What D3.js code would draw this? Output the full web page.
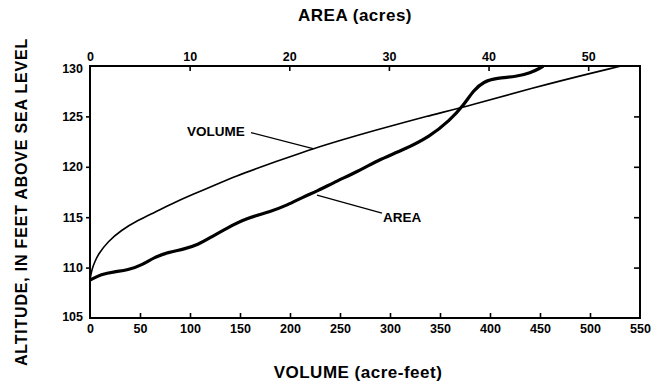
<!DOCTYPE html>
<html>
<head>
<meta charset="utf-8">
<script src="https://cdn.jsdelivr.net/npm/d3@7"></script>
<style>
  body { margin: 0; background: #fff; }
  svg { display: block; font-family: "Liberation Sans", Arial, sans-serif; font-weight: bold; }
</style>
</head>
<body>
<div id="chart"></div>
<script>
// altitude vs volume (acre-feet)
const volumeValues = [0, 2, 5, 8, 18, 31, 48, 65, 81, 101, 130, 147, 163, 197, 223, 253, 280, 340, 377, 460, 531]
const volumeAltitude = [108.8, 109.9, 110.6, 111.3, 112.6, 113.7, 114.7, 115.5, 116.3, 117.2, 118.4, 119.1, 119.7, 120.9, 121.8, 122.7, 123.5, 125.1, 126.0, 128.3, 130]

// altitude vs area (acres)
const areaValues = [0, 1.1, 2.5, 3.8, 5.2, 6.5, 7.8, 9.5, 10.8, 12.2, 13.7, 15.7, 18.1, 19.8, 21.4, 22.8, 24.8, 26.8, 28.8, 31.5, 34.1, 36.1, 37.5, 38.5, 39.5, 40.8, 42.8, 44.2, 45.2, 45.5]
const areaAltitude = [108.75, 109.35, 109.6, 109.75, 110.25, 111.05, 111.5, 111.85, 112.25, 113.05, 113.9, 114.9, 115.55, 116.2, 117.0, 117.6, 118.6, 119.5, 120.6, 121.7, 123.0, 124.6, 126.1, 127.6, 128.45, 128.8, 128.95, 129.3, 129.8, 130]

const volumeTicks = [0, 50, 100, 150, 200, 250, 300, 350, 400, 450, 500, 550]
const areaTicks = [0, 10, 20, 30, 40, 50]
const altitudeTicks = [105, 110, 115, 120, 125, 130]

const W = 657, H = 385
const svg = d3.select('#chart').append('svg')
    .attr('width', W)
    .attr('height', H)

const x = d3.scaleLinear().domain([0, 550]).range([90, 640])
const xa = d3.scaleLinear().domain([0, 55.2]).range([90, 640])
const y = d3.scaleLinear().domain([105, 130]).range([318, 66])

// bottom axis, ticks inward
const gb = svg.append('g')
    .attr('transform', 'translate(0,' + y(105) + ')')
    .call(d3.axisBottom(x).tickValues(volumeTicks).tickSize(-5).tickPadding(6))
// top axis, ticks inward
const gt = svg.append('g')
    .attr('transform', 'translate(0,' + y(130) + ')')
    .call(d3.axisTop(xa).tickValues(areaTicks).tickSize(-5).tickPadding(5))
// left axis, ticks outward
const gl = svg.append('g')
    .attr('transform', 'translate(' + x(0) + ',0)')
    .call(d3.axisLeft(y).tickValues(altitudeTicks).tickSize(4).tickPadding(3))
// right axis, ticks inward, no labels
const gr = svg.append('g')
    .attr('transform', 'translate(' + x(550) + ',0)')
    .call(d3.axisRight(y).tickValues(altitudeTicks.slice(1, -1)).tickSize(-6).tickFormat(''))

;[gb, gt, gl, gr].forEach(g => {
    g.select('.domain').remove()
    g.selectAll('line').attr('stroke', '#000').attr('stroke-width', 1.6)
    g.selectAll('text')
        .attr('fill', '#000')
        .style('font-size', '12.5px')
        .style('font-weight', 'bold')
})
// corner ticks are just the frame
gb.selectAll('.tick line').filter(d => d === 0 || d === 550).remove()
gt.selectAll('.tick line').filter(d => d === 0).remove()
gl.selectAll('.tick line').filter(d => d === 105 || d === 130).remove()
gl.selectAll('.tick text').attr('dy', d => d === 130 ? '0.55em' : d === 105 ? '0.2em' : '0.32em')

// frame
svg.append('rect')
    .attr('x', x(0))
    .attr('y', y(130))
    .attr('width', x(550) - x(0))
    .attr('height', y(105) - y(130))
    .attr('fill', 'none')
    .attr('stroke', '#000')
    .attr('stroke-width', 2)

// curves
svg.append('path')
    .datum(volumeValues)
    .attr('d', d3.line()
        .x(d => x(d))
        .y((d, i) => y(volumeAltitude[i]))
        .curve(d3.curveBasis))
    .attr('fill', 'none')
    .attr('stroke', '#000')
    .attr('stroke-width', 1.6)

svg.append('path')
    .datum(areaValues)
    .attr('d', d3.line()
        .x(d => xa(d))
        .y((d, i) => y(areaAltitude[i]))
        .curve(d3.curveBasis))
    .attr('fill', 'none')
    .attr('stroke', '#000')
    .attr('stroke-width', 3.2)
    .attr('stroke-linejoin', 'round')

// curve labels with leaders
svg.append('text')
    .attr('x', x(97))
    .attr('y', y(123.1))
    .style('font-size', '13.5px')
    .text('VOLUME')
svg.append('line')
    .attr('x1', x(161)).attr('y1', y(123.4))
    .attr('x2', x(223)).attr('y2', y(121.8))
    .attr('stroke', '#000').attr('stroke-width', 1.3)

svg.append('text')
    .attr('x', x(293))
    .attr('y', y(114.55))
    .style('font-size', '13.5px')
    .text('AREA')
svg.append('line')
    .attr('x1', x(227)).attr('y1', y(117.2))
    .attr('x2', x(292)).attr('y2', y(115.4))
    .attr('stroke', '#000').attr('stroke-width', 1.3)

// axis titles
svg.append('text')
    .attr('x', 355)
    .attr('y', 21)
    .attr('text-anchor', 'middle')
    .style('font-size', '17px')
    .style('letter-spacing', '0.5px')
    .text('AREA (acres)')

svg.append('text')
    .attr('x', 358)
    .attr('y', 378)
    .attr('text-anchor', 'middle')
    .style('font-size', '17px')
    .style('letter-spacing', '0.5px')
    .text('VOLUME (acre-feet)')

svg.append('text')
    .attr('transform', 'translate(27,202) rotate(-90)')
    .attr('text-anchor', 'middle')
    .style('font-size', '16px')
    .style('letter-spacing', '0.8px')
    .text('ALTITUDE, IN FEET ABOVE SEA LEVEL')
</script>
</body>
</html>
